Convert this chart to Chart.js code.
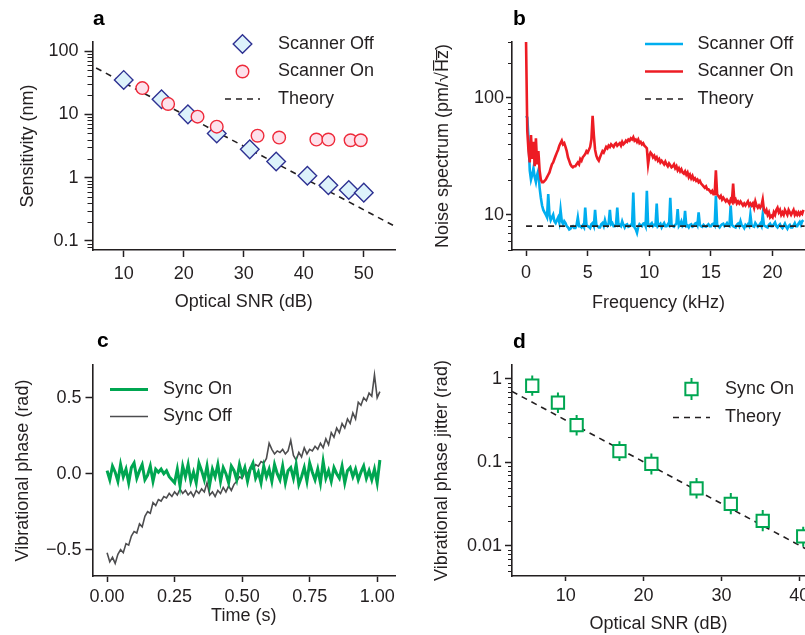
<!DOCTYPE html>
<html>
<head>
<meta charset="utf-8">
<script src="https://cdn.jsdelivr.net/npm/chart.js@4.4.1/dist/chart.umd.min.js"></script>
<style>
  body { margin: 0; background: #fff; }
  #fig { position: relative; width: 805px; height: 635px; overflow: hidden; background: #fff; }
  #fig canvas { position: absolute; }
</style>
</head>
<body>
<div id="fig">
  <canvas id="panelA" width="400" height="320" style="left:0px;top:0px"></canvas>
  <canvas id="panelB" width="405" height="320" style="left:400px;top:0px"></canvas>
  <canvas id="panelC" width="400" height="315" style="left:0px;top:320px"></canvas>
  <canvas id="panelD" width="405" height="315" style="left:400px;top:320px"></canvas>
</div>
<script>
// ---- panel a: sensitivity vs optical SNR ----
const snrOff = [10.0, 16.3, 20.7, 25.5, 31.0, 35.4, 40.6, 44.1, 47.5, 50.0];
const sensOff = [35, 17.3, 10.0, 5.0, 2.8, 1.8, 1.07, 0.76, 0.64, 0.58];
const snrOn = [13.1, 17.4, 22.3, 25.5, 32.3, 35.9, 42.1, 44.1, 47.8, 49.5];
const sensOn = [26, 14.6, 9.2, 6.4, 4.6, 4.3, 4.0, 4.0, 3.9, 3.9];
const theorySnrA = [5.4, 55.2];
const theorySensA = [54, 0.17];

// ---- panel b: noise spectrum (kHz, pm/sqrt(Hz)) ----
const freqB = [
  0.0, 0.1, 0.2, 0.3, 0.4, 0.5, 0.6, 0.7, 0.8, 0.9,
  1.0, 1.1, 1.2, 1.3, 1.4, 1.5, 1.6, 1.7, 1.8, 1.9,
  2.0, 2.1, 2.2, 2.3, 2.4, 2.5, 2.6, 2.7, 2.8, 2.9,
  3.0, 3.1, 3.2, 3.3, 3.4, 3.5, 3.6, 3.7, 3.8, 3.9,
  4.0, 4.1, 4.2, 4.3, 4.4, 4.5, 4.6, 4.7, 4.8, 4.9,
  5.0, 5.1, 5.2, 5.3, 5.4, 5.5, 5.6, 5.7, 5.8, 5.9,
  6.0, 6.1, 6.2, 6.3, 6.4, 6.5, 6.6, 6.7, 6.8, 6.9,
  7.0, 7.1, 7.2, 7.3, 7.4, 7.5, 7.6, 7.7, 7.8, 7.9,
  8.0, 8.1, 8.2, 8.3, 8.4, 8.5, 8.6, 8.7, 8.8, 8.9,
  9.0, 9.1, 9.2, 9.3, 9.4, 9.5, 9.6, 9.7, 9.8, 9.9,
  10.0, 10.1, 10.2, 10.3, 10.4, 10.5, 10.6, 10.7, 10.8, 10.9,
  11.0, 11.1, 11.2, 11.3, 11.4, 11.5, 11.6, 11.7, 11.8, 11.9,
  12.0, 12.1, 12.2, 12.3, 12.4, 12.5, 12.6, 12.7, 12.8, 12.9,
  13.0, 13.1, 13.2, 13.3, 13.4, 13.5, 13.6, 13.7, 13.8, 13.9,
  14.0, 14.1, 14.2, 14.3, 14.4, 14.5, 14.6, 14.7, 14.8, 14.9,
  15.0, 15.1, 15.2, 15.3, 15.4, 15.5, 15.6, 15.7, 15.8, 15.9,
  16.0, 16.1, 16.2, 16.3, 16.4, 16.5, 16.6, 16.7, 16.8, 16.9,
  17.0, 17.1, 17.2, 17.3, 17.4, 17.5, 17.6, 17.7, 17.8, 17.9,
  18.0, 18.1, 18.2, 18.3, 18.4, 18.5, 18.6, 18.7, 18.8, 18.9,
  19.0, 19.1, 19.2, 19.3, 19.4, 19.5, 19.6, 19.7, 19.8, 19.9,
  20.0, 20.1, 20.2, 20.3, 20.4, 20.5, 20.6, 20.7, 20.8, 20.9,
  21.0, 21.1, 21.2, 21.3, 21.4, 21.5, 21.6, 21.7, 21.8, 21.9,
  22.0, 22.1, 22.2, 22.3, 22.4, 22.5,
];
const noiseOff = [
  70, 68, 45, 24, 20, 22, 25, 21, 19, 22,
  24, 17, 14, 12, 11, 10.5, 10, 9.5, 15, 10,
  9, 9.5, 10, 8.8, 8.5, 9, 9.5, 8.6, 11, 8.8,
  8.3, 8.8, 8.5, 8.0, 7.8, 7.5, 7.6, 7.9, 8.0, 7.7,
  7.7, 8.2, 9.5, 8.0, 8.0, 7.8, 8.1, 7.8, 11.5, 8.2,
  8.0, 7.9, 7.7, 8.3, 8.5, 8.0, 11, 8.2, 8.0, 7.8,
  7.8, 8.3, 8.5, 8.0, 9.0, 8.2, 8.0, 8.4, 11, 8.3,
  8.5, 8.0, 8.0, 8.3, 11.5, 8.1, 8.2, 8.0, 8.8, 8.2,
  7.8, 8.2, 8.3, 7.9, 8.0, 8.2, 8.1, 15.5, 7.8, 7.5,
  7.0, 7.9, 8.3, 8.1, 8.0, 8.4, 8.5, 8.0, 16, 8.2,
  8.0, 8.3, 8.5, 8.0, 8.2, 8.1, 12.5, 8.0, 8.2, 8.4,
  7.8, 8.2, 8.5, 8.0, 8.0, 8.3, 8.1, 14, 8.3, 8.0,
  7.9, 8.2, 8.4, 11.2, 8.0, 8.3, 8.8, 8.0, 8.2, 10.8,
  8.0, 8.1, 7.8, 8.2, 8.3, 7.9, 8.0, 8.4, 8.5, 8.1,
  10.5, 8.2, 8.0, 7.9, 8.2, 8.0, 7.9, 8.1, 8.3, 8.0,
  8.0, 8.3, 8.4, 8.1, 14.5, 8.2, 8.0, 7.8, 8.1, 8.3,
  8.4, 8.0, 8.2, 8.5, 8.1, 8.0, 12, 8.2, 8.0, 7.9,
  7.8, 8.2, 8.4, 8.0, 8.8, 8.1, 8.0, 7.7, 8.2, 8.0,
  8.3, 8.0, 10, 8.1, 8.0, 7.9, 8.5, 8.2, 7.9, 8.1,
  8.4, 8.0, 10, 8.1, 8.0, 7.9, 7.8, 8.2, 8.4, 8.0,
  8.0, 8.3, 8.6, 8.0, 7.8, 8.1, 8.3, 7.9, 7.7, 8.0,
  8.4, 7.9, 7.6, 8.0, 8.2, 7.8, 7.8, 8.1, 8.5, 8.0,
  8.0, 8.4, 8.7, 8.2, 8.8, 9.0,
];
const noiseOn = [
  300, 52, 35, 28, 48, 30, 42, 26, 45, 27,
  35, 24, 20, 19, 19, 19.5, 20, 21, 22, 23,
  25, 27, 28, 30, 32, 34, 36, 39, 41, 43,
  40, 41, 38, 35, 31, 29, 27, 26, 25.5, 26,
  26, 27, 28, 27, 30, 29, 31, 32, 33, 35,
  34, 36, 38, 44, 70, 48, 36, 32, 30, 29,
  31, 33, 35, 34, 36, 38, 37, 39, 38, 40,
  39, 38, 40, 41, 39, 40, 41, 39, 42, 40,
  41, 43, 42, 44, 43, 45, 44, 46, 43, 44,
  42, 44, 41, 42, 40, 41, 39, 38, 37, 27,
  32, 34, 33, 31, 32, 30, 31, 29, 30, 28,
  29, 28, 27, 28.5, 27, 26, 27.5, 26.5, 25.5, 26,
  27, 25, 26, 24, 25, 23.5, 24.5, 23, 22.5, 23.5,
  22, 23, 21, 22, 20.5, 21.5, 20, 20.5, 19.5, 20,
  19, 19.5, 18.5, 18, 17.5, 17, 17.5, 16.5, 16.5, 16,
  15.5, 16, 15, 15, 24, 15, 14.5, 14, 14.5, 13.5,
  14, 13.5, 13, 13.5, 13, 12.5, 13.5, 13, 18.5, 13,
  13.5, 12.5, 13, 12.5, 13, 12.5, 12, 12.5, 12, 12.5,
  13, 12, 12.5, 12, 12.5, 11.5, 13, 12, 11.5, 12,
  11.5, 12, 13.5, 11, 10.5, 11, 10, 10.5, 9.5, 9.8,
  9.5, 10.5, 10, 11, 11.5, 10.5, 11, 10, 10.5, 10,
  11, 10.5, 10, 11, 10.5, 10, 10.5, 11, 10, 10.5,
  10, 10.5, 10, 10.5, 10.2, 11,
];
const theoryFreqB = [0, 22.6];
const theoryNoiseB = [8, 8];

// ---- panel c: vibrational phase vs time ----
const timeC = [
  0.00, 0.01, 0.02, 0.03, 0.04, 0.05, 0.06, 0.07, 0.08, 0.09,
  0.10, 0.11, 0.12, 0.13, 0.14, 0.15, 0.16, 0.17, 0.18, 0.19,
  0.20, 0.21, 0.22, 0.23, 0.24, 0.25, 0.26, 0.27, 0.28, 0.29,
  0.30, 0.31, 0.32, 0.33, 0.34, 0.35, 0.36, 0.37, 0.38, 0.39,
  0.40, 0.41, 0.42, 0.43, 0.44, 0.45, 0.46, 0.47, 0.48, 0.49,
  0.50, 0.51, 0.52, 0.53, 0.54, 0.55, 0.56, 0.57, 0.58, 0.59,
  0.60, 0.61, 0.62, 0.63, 0.64, 0.65, 0.66, 0.67, 0.68, 0.69,
  0.70, 0.71, 0.72, 0.73, 0.74, 0.75, 0.76, 0.77, 0.78, 0.79,
  0.80, 0.81, 0.82, 0.83, 0.84, 0.85, 0.86, 0.87, 0.88, 0.89,
  0.90, 0.91, 0.92, 0.93, 0.94, 0.95, 0.96, 0.97, 0.98, 0.99,
  1.00, 1.01,
];
const phaseSyncOn = [
  0.02, -0.04, 0.05, 0.01, -0.05, 0.06, -0.02, 0.03, -0.06, 0.04,
  0.07, -0.03, 0.02, 0.06, -0.04, -0.01, 0.05, -0.05, 0.03, 0.01,
  0.03, 0.00, 0.02, -0.02, -0.04, -0.06, 0.03, -0.08, 0.05, -0.02,
  0.06, -0.05, 0.01, -0.06, 0.07, 0.02, -0.04, 0.05, -0.07, 0.03,
  -0.02, 0.06, -0.05, 0.04, 0.00, -0.06, 0.05, 0.02, -0.04, 0.06,
  -0.01, 0.04, -0.05, 0.03, 0.07, -0.03, 0.01, -0.06, 0.05, -0.02,
  0.03, -0.05, 0.06, 0.00, -0.04, 0.05, -0.06, 0.02, 0.04, -0.03,
  0.06, -0.07, -0.02, 0.04, -0.05, 0.07, 0.01, -0.04, 0.03, -0.06,
  0.08, -0.03, 0.02, -0.05, 0.04, 0.00, -0.03, 0.05, -0.06, 0.02,
  0.04, -0.02, 0.03, -0.04, 0.01, 0.05, -0.03, 0.02, -0.04, 0.03,
  -0.06, 0.09,
];
const phaseSyncOff = [
  -0.52, -0.58, -0.55, -0.59, -0.53, -0.50, -0.52, -0.46, -0.47, -0.41,
  -0.38, -0.39, -0.33, -0.35, -0.28, -0.25, -0.26, -0.19, -0.21, -0.17,
  -0.18, -0.15, -0.16, -0.13, -0.15, -0.12, -0.14, -0.10, -0.13, -0.11,
  -0.14, -0.12, -0.15, -0.11, -0.13, -0.10, -0.12, -0.06, -0.14, -0.12,
  -0.15, -0.11, -0.13, -0.09, -0.12, -0.08, -0.11, -0.07, -0.05, -0.02,
  -0.03, 0.01, 0.00, 0.04, 0.03, 0.06, 0.05, 0.08, 0.07, 0.10,
  0.20, 0.16, 0.13, 0.15, 0.14, 0.16, 0.13, 0.15, 0.22, 0.12,
  0.09, 0.14, 0.11, 0.17, 0.13, 0.16, 0.15, 0.18, 0.16, 0.20,
  0.17, 0.23, 0.19, 0.27, 0.24, 0.30, 0.27, 0.33, 0.30, 0.36,
  0.33, 0.40, 0.36, 0.47, 0.45, 0.50, 0.48, 0.53, 0.51, 0.65,
  0.50, 0.54,
];

// ---- panel d: phase jitter vs optical SNR ----
const snrD = [5.7, 9.0, 11.4, 16.9, 21.0, 26.8, 31.2, 35.3, 40.5];
const jitter = [0.83, 0.52, 0.28, 0.137, 0.096, 0.049, 0.032, 0.020, 0.013];
const jitterHigh = [1.10, 0.69, 0.37, 0.18, 0.128, 0.065, 0.043, 0.027, 0.017];
const jitterLow = [0.63, 0.39, 0.21, 0.104, 0.072, 0.037, 0.024, 0.015, 0.0098];
const theorySnrD = [3.1, 40.8];
const theoryJitterD = [0.71, 0.0093];

// ---- axis ticks ----
const ticksA_x = [10, 20, 30, 40, 50];
const labelsA_x = ["10", "20", "30", "40", "50"];
const ticksA_y = [0.1, 1, 10, 100];
const labelsA_y = ["0.1", "1", "10", "100"];
const ticksB_x = [0, 5, 10, 15, 20];
const labelsB_x = ["0", "5", "10", "15", "20"];
const ticksB_y = [10, 100];
const labelsB_y = ["10", "100"];
const ticksC_x = [0, 0.25, 0.5, 0.75, 1];
const labelsC_x = ["0.00", "0.25", "0.50", "0.75", "1.00"];
const ticksC_y = [-0.5, 0, 0.5];
const labelsC_y = ["\u22120.5", "0.0", "0.5"];
const ticksD_x = [10, 20, 30, 40];
const labelsD_x = ["10", "20", "30", "40"];
const ticksD_y = [0.01, 0.1, 1];
const labelsD_y = ["0.01", "0.1", "1"];

const FONT = "'Liberation Sans', Arial, Helvetica, sans-serif";
const INK = "#231f20";
const textFont = { family: FONT, size: 18 };

const points = (xs, ys) => xs.map((x, i) => ({ x, y: ys[i] }));

function logMinorTicks(min, max) {
  const out = [];
  for (let e = Math.floor(Math.log10(min)); e <= Math.ceil(Math.log10(max)); e++) {
    for (let k = 2; k <= 9; k++) {
      const v = k * Math.pow(10, e);
      if (v >= min && v <= max) {
        out.push(v);
      }
    }
  }
  return out;
}

function buildScale(o) {
  const horizontal = o.position === "bottom";
  return {
    type: o.type,
    position: o.position,
    min: o.min,
    max: o.max,
    bounds: "data",
    afterBuildTicks: (scale) => {
      scale.ticks = o.ticks.map((value) => ({ value }));
    },
    afterFit: (scale) => {
      if (horizontal) {
        scale.height = o.size;
      } else {
        scale.width = o.size;
      }
      scale.paddingLeft = 0;
      scale.paddingRight = 0;
      scale.paddingTop = 0;
      scale.paddingBottom = 0;
    },
    border: { display: true, color: INK, width: 1.6 },
    grid: {
      display: true,
      drawOnChartArea: false,
      drawTicks: true,
      tickLength: o.tickLength,
      tickWidth: 1.5,
      tickColor: INK,
    },
    ticks: {
      autoSkip: false,
      maxRotation: 0,
      minRotation: 0,
      padding: o.labelPadding,
      color: INK,
      font: textFont,
      callback: (value, index) => o.labels[index],
    },
    title: {
      display: true,
      text: o.title,
      color: INK,
      font: textFont,
      padding: horizontal ? { top: 0, bottom: o.titlePadding } : { top: o.titlePadding, bottom: 0 },
    },
  };
}

function drawMarker(ctx, style, x, y, r, fill, stroke, lineWidth) {
  ctx.save();
  ctx.beginPath();
  if (style === "circle") {
    ctx.arc(x, y, r, 0, Math.PI * 2);
  } else if (style === "rectRot") {
    ctx.moveTo(x, y - r);
    ctx.lineTo(x + r, y);
    ctx.lineTo(x, y + r);
    ctx.lineTo(x - r, y);
    ctx.closePath();
  } else {
    const h = r * Math.SQRT1_2;
    ctx.rect(x - h, y - h, 2 * h, 2 * h);
  }
  ctx.fillStyle = fill;
  ctx.fill();
  ctx.lineWidth = lineWidth;
  ctx.strokeStyle = stroke;
  ctx.stroke();
  ctx.restore();
}

// short ticks between the decades of a log axis
const minorTicks = {
  id: "minorTicks",
  afterDraw(chart, args, opts) {
    if (!opts.values) {
      return;
    }
    const scale = chart.scales.y;
    const ctx = chart.ctx;
    ctx.save();
    ctx.strokeStyle = INK;
    ctx.lineWidth = 1.2;
    ctx.beginPath();
    opts.values.forEach((v) => {
      const py = Math.round(scale.getPixelForValue(v)) + 0.5;
      ctx.moveTo(scale.right - opts.length, py);
      ctx.lineTo(scale.right, py);
    });
    ctx.stroke();
    ctx.restore();
  },
};

// vertical error bars under the markers of one dataset
const errorBars = {
  id: "errorBars",
  beforeDatasetsDraw(chart, args, opts) {
    if (!opts.low) {
      return;
    }
    const { ctx, chartArea } = chart;
    const xs = chart.scales.x;
    const ys = chart.scales.y;
    const data = chart.data.datasets[opts.dataset].data;
    ctx.save();
    ctx.beginPath();
    ctx.rect(chartArea.left, chartArea.top, chartArea.right - chartArea.left, chartArea.bottom - chartArea.top);
    ctx.clip();
    ctx.strokeStyle = opts.color;
    ctx.lineWidth = 2;
    ctx.beginPath();
    data.forEach((p, i) => {
      const px = xs.getPixelForValue(p.x);
      ctx.moveTo(px, ys.getPixelForValue(opts.high[i]));
      ctx.lineTo(px, ys.getPixelForValue(opts.low[i]));
    });
    ctx.stroke();
    ctx.restore();
  },
};

// panel letter and in-plot legend, drawn from the datasets' own styles
const panelDecor = {
  id: "panelDecor",
  afterDraw(chart, args, opts) {
    if (!opts.letter) {
      return;
    }
    const ctx = chart.ctx;
    ctx.save();
    ctx.font = `bold 21px ${FONT}`;
    ctx.fillStyle = "#000";
    ctx.textAlign = "left";
    ctx.textBaseline = "alphabetic";
    ctx.fillText(opts.letter, opts.letterX, opts.letterY);

    opts.entries.forEach((entry) => {
      const ds = chart.data.datasets[entry.dataset];
      const y = entry.y;
      if (ds.showLine === false) {
        const cx = (opts.sampleX0 + opts.sampleX1) / 2;
        if (entry.errorBar) {
          ctx.beginPath();
          ctx.strokeStyle = ds.borderColor;
          ctx.lineWidth = 2;
          ctx.moveTo(cx, y - 11);
          ctx.lineTo(cx, y + 11);
          ctx.stroke();
        }
        drawMarker(ctx, ds.pointStyle, cx, y, ds.pointRadius, ds.backgroundColor, ds.borderColor, ds.borderWidth);
      } else {
        ctx.beginPath();
        ctx.setLineDash(ds.borderDash || []);
        ctx.strokeStyle = ds.borderColor;
        ctx.lineWidth = ds.borderWidth;
        ctx.moveTo(opts.sampleX0, y);
        ctx.lineTo(opts.sampleX1, y);
        ctx.stroke();
        ctx.setLineDash([]);
      }
      ctx.font = `18px ${FONT}`;
      ctx.fillStyle = INK;
      ctx.textBaseline = "middle";
      ctx.fillText(ds.label, opts.textX, y);
    });
    ctx.restore();
  },
};

Chart.register(minorTicks, errorBars, panelDecor);

function baseOptions(padding, scales, plugins) {
  return {
    responsive: false,
    animation: false,
    layout: { padding, autoPadding: false },
    scales,
    plugins: Object.assign({ legend: { display: false }, tooltip: { enabled: false } }, plugins),
  };
}

// panel a
new Chart(document.getElementById("panelA"), {
  type: "line",
  data: {
    datasets: [
      {
        label: "Scanner On",
        data: points(snrOn, sensOn),
        showLine: false,
        pointStyle: "circle",
        pointRadius: 6.3,
        backgroundColor: "#fde1eb",
        borderColor: "#ee2a3a",
        borderWidth: 1.4,
      },
      {
        label: "Scanner Off",
        data: points(snrOff, sensOff),
        showLine: false,
        pointStyle: "rectRot",
        pointRadius: 9.3,
        backgroundColor: "#ddf2fb",
        borderColor: "#2e3192",
        borderWidth: 1.4,
      },
      {
        label: "Theory",
        data: points(theorySnrA, theorySensA),
        borderColor: "#231f20",
        borderWidth: 1.6,
        borderDash: [6, 5],
        pointRadius: 0,
      },
    ],
  },
  options: baseOptions(
    { top: 42, right: 5, left: 0, bottom: 0 },
    {
      x: buildScale({ type: "linear", position: "bottom", min: 4.8, max: 55.2, ticks: ticksA_x, labels: labelsA_x,
        title: "Optical SNR (dB)", size: 70, tickLength: 7, labelPadding: 6, titlePadding: 7 }),
      y: buildScale({ type: "logarithmic", position: "left", min: 0.072, max: 139, ticks: ticksA_y, labels: labelsA_y,
        title: "Sensitivity (nm)", size: 92.5, tickLength: 8, labelPadding: 6, titlePadding: 17 }),
    },
    {
      minorTicks: { values: logMinorTicks(0.072, 139), length: 5 },
      panelDecor: {
        letter: "a", letterX: 93, letterY: 25,
        sampleX0: 225, sampleX1: 260, textX: 278,
        entries: [
          { dataset: 1, y: 44 },
          { dataset: 0, y: 71.5 },
          { dataset: 2, y: 99 },
        ],
      },
    },
  ),
});

// panel b
new Chart(document.getElementById("panelB"), {
  type: "line",
  data: {
    datasets: [
      {
        label: "Theory",
        data: points(theoryFreqB, theoryNoiseB),
        borderColor: "#231f20",
        borderWidth: 1.6,
        borderDash: [6, 5],
        pointRadius: 0,
      },
      {
        label: "Scanner On",
        data: points(freqB, noiseOn),
        borderColor: "#ed1c24",
        borderWidth: 2.6,
        pointRadius: 0,
      },
      {
        label: "Scanner Off",
        data: points(freqB, noiseOff),
        borderColor: "#00aeef",
        borderWidth: 2.6,
        pointRadius: 0,
      },
    ],
  },
  options: baseOptions(
    { top: 42, right: 0, left: 0, bottom: 0 },
    {
      x: buildScale({ type: "linear", position: "bottom", min: -1.14, max: 22.63, ticks: ticksB_x, labels: labelsB_x,
        title: "Frequency (kHz)", size: 70, tickLength: 6, labelPadding: 6.5, titlePadding: 6 }),
      y: buildScale({ type: "logarithmic", position: "left", min: 5, max: 300, ticks: ticksB_y, labels: labelsB_y,
        title: "Noise spectrum (pm/\u221AH\u0305z\u0305)", size: 112, tickLength: 6, labelPadding: 2, titlePadding: 32 }),
    },
    {
      minorTicks: { values: logMinorTicks(5, 300), length: 4 },
      panelDecor: {
        letter: "b", letterX: 113, letterY: 25,
        sampleX0: 245, sampleX1: 283, textX: 297.5,
        entries: [
          { dataset: 2, y: 44 },
          { dataset: 1, y: 71.5 },
          { dataset: 0, y: 99 },
        ],
      },
    },
  ),
});

// panel c
new Chart(document.getElementById("panelC"), {
  type: "line",
  data: {
    datasets: [
      {
        label: "Sync On",
        data: points(timeC, phaseSyncOn),
        borderColor: "#00a651",
        borderWidth: 3,
        pointRadius: 0,
      },
      {
        label: "Sync Off",
        data: points(timeC, phaseSyncOff),
        borderColor: "#4d4d4f",
        borderWidth: 1.6,
        pointRadius: 0,
      },
    ],
  },
  options: baseOptions(
    { top: 45, right: 5, left: 0, bottom: 0 },
    {
      x: buildScale({ type: "linear", position: "bottom", min: -0.054, max: 1.066, ticks: ticksC_x, labels: labelsC_x,
        title: "Time (s)", size: 59, tickLength: 6, labelPadding: 4, titlePadding: 8 }),
      y: buildScale({ type: "linear", position: "left", min: -0.673, max: 0.715, ticks: ticksC_y, labels: labelsC_y,
        title: "Vibrational phase (rad)", size: 92.5, tickLength: 7, labelPadding: 4, titlePadding: 12 }),
    },
    {
      panelDecor: {
        letter: "c", letterX: 97, letterY: 27,
        sampleX0: 110, sampleX1: 148, textX: 163,
        entries: [
          { dataset: 0, y: 69.5 },
          { dataset: 1, y: 96.5 },
        ],
      },
    },
  ),
});

// panel d
new Chart(document.getElementById("panelD"), {
  type: "line",
  data: {
    datasets: [
      {
        label: "Sync On",
        data: points(snrD, jitter),
        showLine: false,
        pointStyle: "rect",
        pointRadius: 8.7,
        backgroundColor: "#ffffff",
        borderColor: "#00a651",
        borderWidth: 2,
      },
      {
        label: "Theory",
        data: points(theorySnrD, theoryJitterD),
        borderColor: "#231f20",
        borderWidth: 1.6,
        borderDash: [6, 5],
        pointRadius: 0,
      },
    ],
  },
  options: baseOptions(
    { top: 45, right: 0, left: 0, bottom: 0 },
    {
      x: buildScale({ type: "linear", position: "bottom", min: 3.1, max: 40.73, ticks: ticksD_x, labels: labelsD_x,
        title: "Optical SNR (dB)", size: 59, tickLength: 5, labelPadding: 4, titlePadding: 0 }),
      y: buildScale({ type: "logarithmic", position: "left", min: 0.00437, max: 1.47, ticks: ticksD_y, labels: labelsD_y,
        title: "Vibrational phase jitter (rad)", size: 112, tickLength: 7, labelPadding: 3, titlePadding: 31 }),
    },
    {
      minorTicks: { values: logMinorTicks(0.00437, 1.47), length: 4 },
      errorBars: { dataset: 0, low: jitterLow, high: jitterHigh, color: "#00a651" },
      panelDecor: {
        letter: "d", letterX: 113, letterY: 28,
        sampleX0: 273, sampleX1: 310, textX: 325,
        entries: [
          { dataset: 0, y: 69, errorBar: true },
          { dataset: 1, y: 97.5 },
        ],
      },
    },
  ),
});
</script>
</body>
</html>
